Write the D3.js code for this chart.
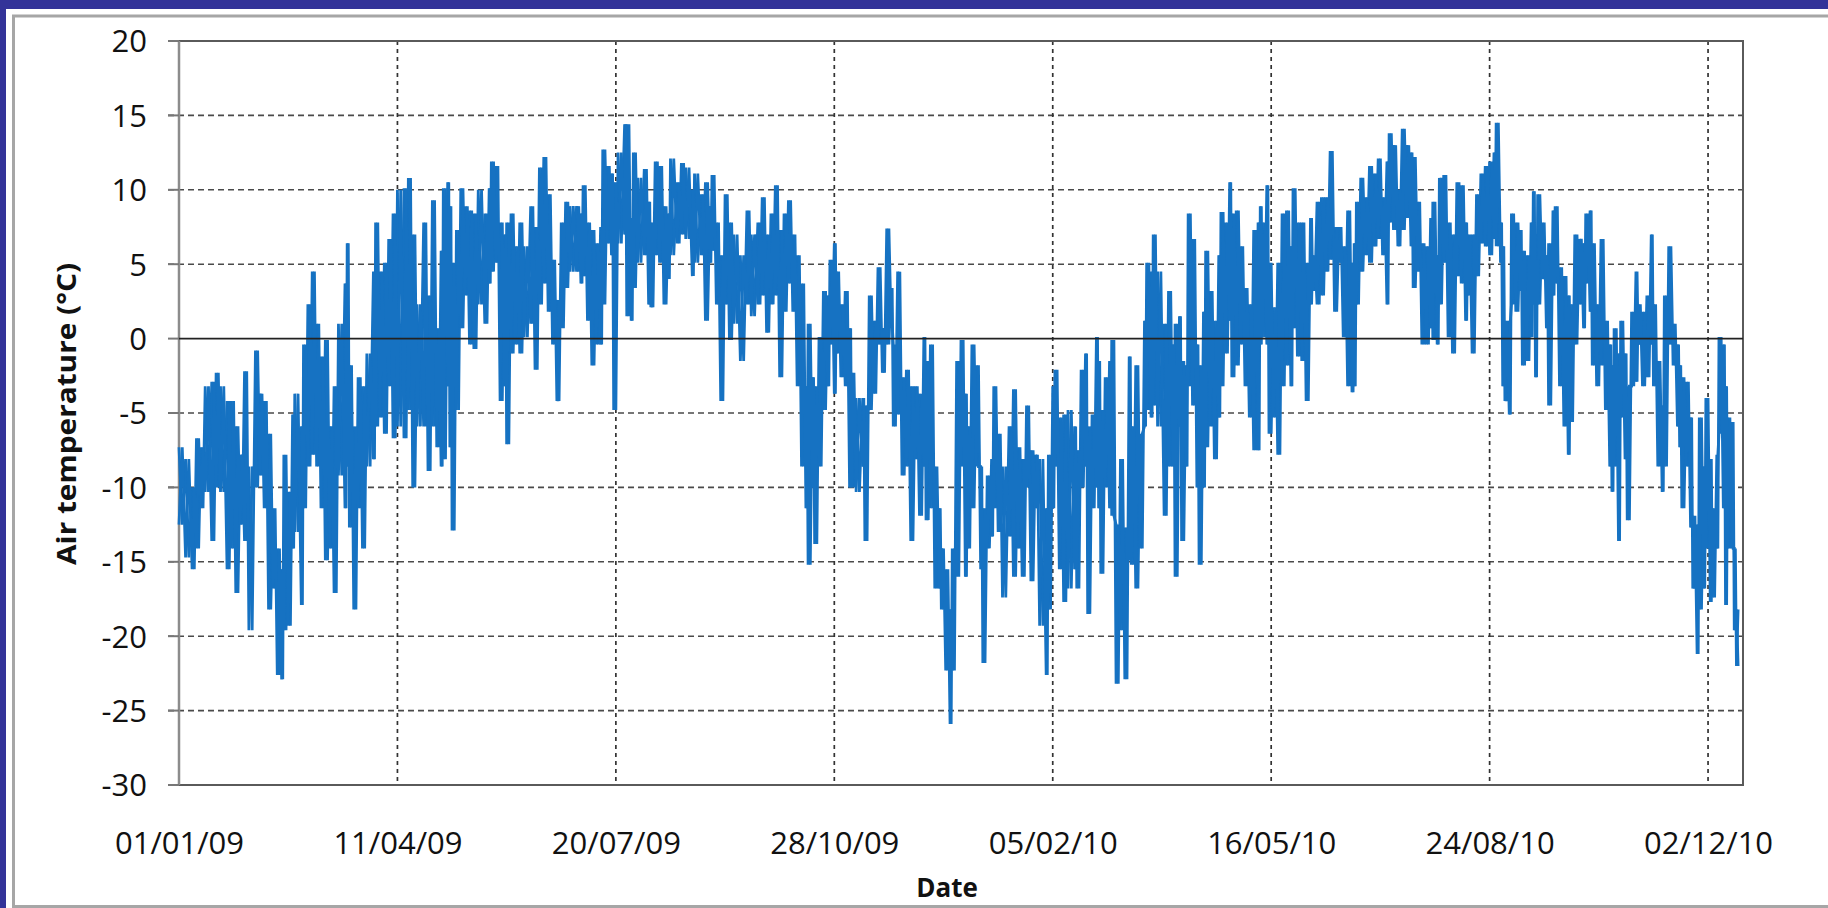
<!DOCTYPE html>
<html><head><meta charset="utf-8">
<script src="https://cdn.jsdelivr.net/npm/d3@7"></script>
<style>
body{margin:0;background:#333399;}
svg{display:block}
text{font-family:"Open Sans","Noto Sans",sans-serif;fill:#111;}
</style>
</head><body>
<svg id="chart" width="1828" height="908"></svg>
<script>
// ---------------- data ----------------
const startDate = "2009-01-01";
const axisEndDay = 716;
const tickDays = [0, 100, 200, 300, 400, 500, 600, 700];
const tickLabels = ["01/01/09","11/04/09","20/07/09","28/10/09","05/02/10","16/05/10","24/08/10","02/12/10"];
const yTicks = [20, 15, 10, 5, 0, -5, -10, -15, -20, -25, -30];
const xTitle = "Date";
const yTitle = "Air temperature (°C)";

// day offset from 01/01/09, with the upper and lower envelope of the readings (°C)
const dayOffsets = [
  0,3,6,8,10,12,15,17,19,22,24,26,28,30,32,35,37,39,41,43,45,47,48,50,52,53,56,57,59,61,63,65,67,69,71,73,76,77,78,80,82,84,86,89,90,92,94,96,98,100,
  103,105,107,109,112,114,116,118,120,121,123,124,125,127,129,131,133,135,137,140,142,143,145,147,149,150,152,154,156,158,161,163,165,167,169,171,173,175,177,179,182,184,185,187,189,191,193,194,196,198,199,201,204,
  205,207,208,210,213,215,216,218,220,222,224,225,228,230,232,235,236,239,241,243,244,246,248,250,252,254,257,260,262,265,267,269,271,273,275,277,279,281,283,285,287,288,290,291,293,295,297,298,300,301,303,305,307,
  308,310,313,314,316,318,320,322,324,326,327,329,331,333,335,337,339,341,342,344,346,348,349,351,353,354,356,358,360,361,363,365,367,368,370,372,373,375,377,380,382,384,386,388,390,392,394,397,398,400,401,403,405,407,410,
  411,413,415,416,418,420,421,422,424,426,427,429,431,433,435,436,438,440,442,443,445,446,448,451,453,455,456,458,459,461,462,464,466,467,469,470,472,474,476,477,479,481,482,484,486,488,490,492,494,495,496,498,499,501,503,505,507,509,510,512,
  514,516,518,519,521,523,525,527,529,531,533,535,537,538,539,541,543,545,547,549,551,553,554,556,558,560,562,564,565,567,569,571,573,574,576,577,579,581,583,585,587,589,590,592,594,596,598,600,602,603,605,606,607,609,610,612,614,615,
  617,619,620,621,622,624,626,627,629,630,632,634,636,637,639,641,643,644,646,647,649,651,653,655,656,657,659,660,662,663,665,667,668,670,672,674,675,677,679,680,682,684,686,687,688,690,692,693,695,696,698,699,701,702,704,705,707,708,709,711,712,713
];
const highs = [
  -7.3,-8.1,-10.0,-6.7,-7.3,-3.2,-2.9,-2.3,-3.2,-4.2,-4.2,-5.9,-7.8,-2.2,-8.6,-0.8,-3.7,-4.2,-6.4,-11.4,-14.1,-15.5,-7.8,-10.3,-5.1,-3.7,-5.9,-0.4,2.3,4.5,1.0,-1.2,-0.1,-5.9,-3.2,1.0,3.7,6.4,-1.8,-5.9,-2.6,-3.2,-1.0,4.5,7.8,4.5,5.1,6.7,8.4,10.0,
  10.1,10.8,7.0,2.3,7.8,2.9,9.3,0.7,5.9,10.1,10.5,8.9,5.1,7.3,10.1,8.9,8.6,8.4,10.0,8.4,10.1,11.9,11.6,7.8,7.0,7.8,8.4,6.2,7.8,6.2,8.9,7.5,11.5,12.2,9.7,5.3,2.6,7.8,9.2,8.9,8.9,8.4,10.3,7.8,7.3,6.4,7.5,12.7,11.6,11.1,10.5,12.5,14.4,
  14.4,8.1,12.5,10.8,11.4,9.2,7.8,11.9,11.6,8.9,8.4,12.1,10.5,11.8,11.5,10.0,11.1,9.7,10.5,8.9,11.0,7.8,5.6,9.7,7.8,7.0,5.6,8.6,7.0,7.8,9.5,7.0,8.4,10.3,7.3,8.4,9.3,7.0,5.6,3.7,-3.2,1.0,-2.6,-3.2,0.1,3.2,2.9,5.3,6.4,4.5,2.3,3.2,0.7,
  -2.3,-4.0,-4.0,-4.5,2.9,1.2,4.8,0.7,7.4,3.4,-0.4,4.5,-2.6,-2.1,-3.2,-3.2,-3.7,0.1,-1.5,-0.4,-8.6,-11.4,-14.1,-15.5,-18.2,-14.1,-1.5,-0.1,-3.7,-5.9,-0.4,-1.8,-8.6,-11.4,-9.2,-8.1,-3.2,-6.4,-8.6,-5.9,-3.4,-7.3,-8.1,-4.5,-7.5,-7.8,-8.1,-11.4,-7.8,-3.2,-2.1,-5.3,-5.1,-4.8,-5.9,
  -7.5,-2.1,-1.0,-5.9,-5.1,0.1,-1.5,-4.8,-2.6,-1.5,-0.1,-12.5,-8.1,-12.7,-1.2,-5.9,-1.8,-6.4,1.2,5.1,4.5,7.0,4.5,1.0,3.2,-0.4,1.0,1.5,-1.5,-1.8,8.4,6.7,-0.4,-1.8,1.8,5.9,3.2,1.2,5.6,8.5,7.8,10.5,8.4,8.6,6.2,3.4,2.3,7.3,7.8,8.9,7.8,10.3,5.1,2.1,5.1,8.4,8.6,6.2,10.1,7.8,
  7.8,5.1,8.1,5.6,9.2,9.5,9.5,12.6,7.5,7.5,6.2,8.6,5.1,6.4,9.2,10.8,9.5,11.6,11.1,12.1,9.5,11.9,13.8,13.0,10.0,14.1,13.0,12.5,12.2,9.2,6.4,6.2,8.1,9.2,5.6,10.8,11.0,7.8,7.0,10.5,10.3,7.8,7.0,7.0,9.7,11.1,11.6,11.9,12.5,14.5,7.8,6.2,1.2,1.2,8.4,7.8,7.3,5.9,
  5.6,7.8,9.9,5.3,9.7,7.8,5.6,6.4,8.6,8.9,4.8,4.2,2.9,2.3,7.0,6.7,6.4,8.4,8.6,6.4,2.3,6.7,1.2,-0.4,-1.8,0.7,-1.0,1.2,-1.0,-3.2,1.8,4.5,2.3,1.8,2.9,7.0,2.3,-1.5,-4.5,2.9,6.2,1.0,-0.4,-1.8,-2.6,-2.9,-5.3,-11.9,-12.5,-5.3,-8.6,-4.0,-8.1,-11.4,-7.8,0.1,-0.4,-3.2,-5.3,-5.6,-14.1,-18.2
];
const lows = [
  -12.5,-14.7,-15.5,-14.1,-11.4,-10.3,-13.6,-10.0,-10.3,-15.5,-14.1,-17.1,-12.5,-13.6,-19.6,-10.0,-9.2,-11.4,-18.2,-16.8,-22.6,-22.9,-19.6,-19.3,-14.1,-13.0,-17.9,-11.4,-8.6,-7.8,-8.6,-11.4,-14.9,-14.1,-17.1,-9.2,-11.4,-8.6,-12.7,-18.2,-11.4,-14.1,-8.6,-8.1,-5.9,-5.3,-6.4,-3.2,-6.7,-5.9,
  -6.7,-4.8,-10.0,-5.9,-5.9,-8.9,-5.9,-7.3,-8.6,-8.1,-3.2,-7.3,-12.9,-4.8,0.7,2.9,-0.4,-0.7,2.3,1.0,3.7,4.5,5.1,-4.2,-3.2,-7.1,-1.0,-0.4,-1.0,0.1,1.0,-2.1,2.3,3.7,1.8,-0.4,-4.2,0.7,3.4,4.5,4.5,3.7,4.2,1.2,-1.8,-0.4,-0.4,2.3,6.4,5.6,-4.8,6.4,7.0,
  1.5,1.2,3.4,5.1,5.6,2.3,2.1,5.6,5.1,2.3,4.0,5.6,6.4,7.0,6.7,4.2,5.1,5.6,1.2,5.1,5.9,2.3,-4.2,2.3,-0.1,1.0,-1.5,2.3,1.5,2.3,2.9,0.4,2.3,2.9,-2.6,1.8,3.7,1.8,-3.2,-8.6,-11.4,-15.2,-10.0,-13.8,-8.6,-4.8,-3.2,-0.4,-3.7,-1.0,-2.6,-3.2,-10.0,
  -10.0,-10.3,-8.6,-13.6,-4.8,-3.7,-0.4,-2.3,-0.4,1.0,-5.9,-5.1,-9.2,-8.6,-13.6,-8.1,-11.9,-8.6,-12.2,-11.4,-16.8,-16.8,-18.2,-22.3,-25.9,-22.3,-16.0,-8.6,-16.0,-14.1,-11.4,-8.6,-15.5,-21.8,-14.1,-13.3,-11.4,-13.0,-17.4,-13.3,-16.0,-14.1,-16.0,-10.0,-16.3,-11.4,-19.3,-22.6,-18.2,-11.4,-8.6,-15.5,-17.7,-16.8,-15.5,
  -16.8,-10.0,-8.6,-18.5,-11.4,-10.0,-11.4,-15.8,-10.0,-11.4,-11.9,-23.2,-19.6,-22.9,-14.9,-15.2,-16.8,-14.1,-5.9,-4.8,-5.3,-4.5,-5.9,-11.9,-8.6,-8.6,-16.0,-5.9,-13.6,-8.6,-3.2,-4.5,-10.0,-15.2,-10.0,-7.3,-5.9,-8.1,-5.3,-3.2,-1.0,1.2,-2.6,-1.8,-0.4,-3.2,-5.3,-7.5,-7.5,-0.4,0.1,-0.4,-6.4,-5.3,-7.8,-3.2,-1.8,-3.2,0.7,-1.2,
  -1.5,-4.2,2.3,3.2,2.3,2.9,4.5,5.3,1.8,5.1,0.1,-3.2,-3.6,-3.2,2.3,4.5,5.6,5.1,6.2,6.7,5.6,2.3,7.8,7.3,6.2,7.3,8.1,6.2,3.4,4.5,-0.4,-0.4,0.7,-0.1,-0.4,2.3,5.1,0.1,-1.0,4.2,3.7,1.2,2.9,-1.0,4.2,6.4,6.2,5.6,6.7,6.2,5.1,-3.2,-4.2,-5.1,2.3,1.8,3.2,-1.8,
  -1.5,0.1,2.3,-2.6,2.3,4.0,0.7,-4.5,2.9,3.7,-3.2,-5.9,-7.8,-5.6,-0.4,2.3,0.7,3.7,1.8,-1.8,-3.2,-1.8,-4.8,-8.6,-10.3,-8.6,-13.6,-5.3,-8.1,-12.2,-3.2,-2.9,-0.4,-3.2,-2.6,-0.4,-3.2,-8.6,-10.3,-8.6,-0.4,-1.8,-5.9,-7.3,-11.4,-8.6,-12.7,-16.8,-21.2,-18.2,-16.8,-14.1,-17.7,-17.4,-14.1,-6.4,-11.4,-17.9,-14.1,-14.1,-19.6,-22.0
];

// ---------------- drawing ----------------
const W = 1828, H = 908;
const plot = {left: 179, right: 1743, top: 41, bottom: 785};
const svg = d3.select("#chart");
const start = d3.utcParse("%Y-%m-%d")(startDate);
const dayToDate = d => new Date(start.getTime() + d * 86400000);

// frame
svg.append("rect").attr("x", 0).attr("y", 0).attr("width", W).attr("height", H).attr("fill", "#333399");
svg.append("rect").attr("x", 6).attr("y", 9).attr("width", W).attr("height", H).attr("fill", "#ffffff");
svg.append("rect").attr("x", 13.5).attr("y", 16).attr("width", W).attr("height", 890.5)
  .attr("fill", "none").attr("stroke", "#a6a6a6").attr("stroke-width", 3);

const x = d3.scaleUtc().domain([dayToDate(0), dayToDate(axisEndDay)]).range([plot.left, plot.right]);
const y = d3.scaleLinear().domain([-30, 20]).range([plot.bottom, plot.top]);

// y tick labels
const yAxis = d3.axisLeft(y).tickValues(yTicks).tickSize(0).tickPadding(0).tickFormat(d => String(d));
const gy = svg.append("g").attr("transform", `translate(${plot.left},0)`).call(yAxis);
gy.select(".domain").remove();
gy.selectAll("text").attr("x", -32).attr("dy", "0.35em").style("font-size", "31px").attr("fill", "#111");

// horizontal gridlines
svg.append("g").selectAll("line").data(yTicks.filter(v => v !== 0 && v !== -30)).join("line")
  .attr("x1", plot.left - 11).attr("x2", plot.right)
  .attr("y1", d => y(d)).attr("y2", d => y(d))
  .attr("stroke", "#4a4a4a").attr("stroke-width", 1.6).attr("stroke-dasharray", "6,4");

// vertical gridlines
const xTickDates = tickDays.map(dayToDate);
svg.append("g").selectAll("line").data(xTickDates.slice(1)).join("line")
  .attr("x1", d => x(d)).attr("x2", d => x(d))
  .attr("y1", plot.top).attr("y2", plot.bottom)
  .attr("stroke", "#333").attr("stroke-width", 1.7).attr("stroke-dasharray", "4,4");

// plot border
svg.append("path")
  .attr("d", `M${plot.left},${plot.top}H${plot.right}V${plot.bottom}H${plot.left}`)
  .attr("fill", "none").attr("stroke", "#5a5a5a").attr("stroke-width", 2);
// value axis line
svg.append("line").attr("x1", plot.left).attr("x2", plot.left).attr("y1", plot.top).attr("y2", plot.bottom)
  .attr("stroke", "#8c8c8c").attr("stroke-width", 2.5);
// y tick marks
svg.append("g").selectAll("line").data(yTicks).join("line")
  .attr("x1", plot.left - 11).attr("x2", plot.left).attr("y1", d => y(d)).attr("y2", d => y(d))
  .attr("stroke", "#777").attr("stroke-width", 2);

// series: dense trace drawn as two interleaved zig-zags through the high/low readings
const ptsA = [], ptsB = [];
dayOffsets.forEach((d, i) => {
  const next = i < dayOffsets.length - 1 ? dayOffsets[i + 1] : d + 1.5;
  const mid = (d + next) / 2;
  ptsA.push([dayToDate(d), highs[i]]);
  ptsA.push([dayToDate(mid), lows[i]]);
  ptsB.push([dayToDate(d), lows[i]]);
  ptsB.push([dayToDate(mid), highs[i]]);
});
const line = d3.line().x(p => x(p[0])).y(p => y(p[1]));
const seriesColor = "#1672c2";
[ptsA, ptsB].forEach(pts => {
  svg.append("path").datum(pts).attr("d", line)
    .attr("fill", "none").attr("stroke", seriesColor).attr("stroke-width", 2.8)
    .attr("stroke-linejoin", "miter").attr("stroke-miterlimit", 2);
});

// zero line (category axis)
svg.append("line").attr("x1", plot.left).attr("x2", plot.right).attr("y1", y(0)).attr("y2", y(0))
  .attr("stroke", "#222").attr("stroke-width", 1.6);

// x tick labels (bottom)
const xAxis = d3.axisBottom(x).tickValues(xTickDates).tickSize(0)
  .tickFormat((d, i) => tickLabels[i]);
const gx = svg.append("g").attr("transform", `translate(0,${plot.bottom})`).call(xAxis);
gx.select(".domain").remove();
gx.selectAll("text").attr("y", 58).attr("dy", "0.35em").style("font-size", "31px").attr("fill", "#111");

// titles
svg.append("text").attr("x", 947).attr("y", 888).attr("dy", "0.35em").attr("text-anchor", "middle")
  .style("font-size", "26px").style("font-weight", "bold").text(xTitle);
svg.append("text").attr("transform", "translate(67,414) rotate(-90)").attr("dy", "0.35em")
  .attr("text-anchor", "middle").style("font-size", "27px").style("font-weight", "bold")
  .attr("textLength", 302).attr("lengthAdjust", "spacingAndGlyphs").text(yTitle);
</script>
</body></html>
